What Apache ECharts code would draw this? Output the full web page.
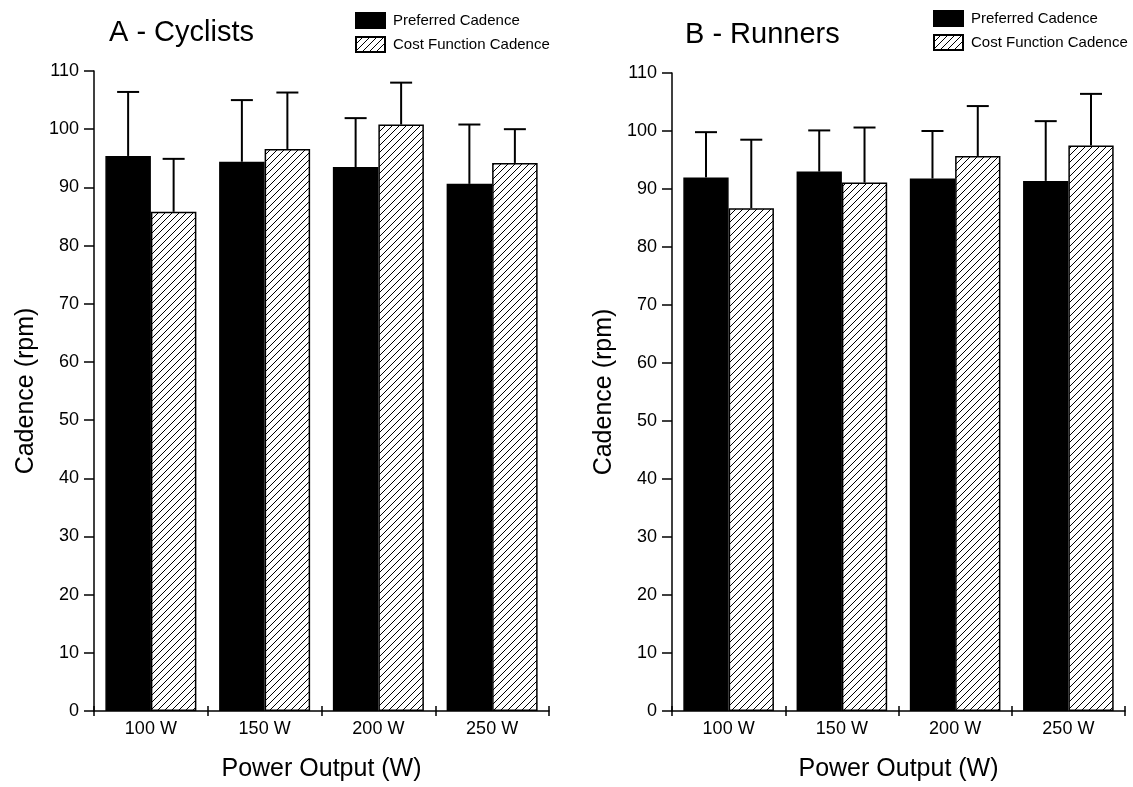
<!DOCTYPE html>
<html>
<head>
<meta charset="utf-8">
<script src="https://cdn.jsdelivr.net/npm/echarts@6/dist/echarts.min.js"></script>
<style>
  html, body { margin: 0; padding: 0; background: #fff; }
  #chart { width: 1133px; height: 787px; }
</style>
</head>
<body>
<div id="chart"></div>
<script>
// data
var categories = ['100 W', '150 W', '200 W', '250 W'];
var seriesNames = ['Preferred Cadence', 'Cost Function Cadence'];
var cycPreferred = [95.4, 94.4, 93.5, 90.6];
var cycPreferredHi = [106.4, 105.0, 101.9, 100.8];
var cycCost = [85.8, 96.6, 100.8, 94.2];
var cycCostHi = [94.9, 106.3, 108.0, 100.0];
var runPreferred = [92.0, 93.0, 91.8, 91.4];
var runPreferredHi = [99.8, 100.1, 100.0, 101.7];
var runCost = [86.7, 91.1, 95.7, 97.5];
var runCostHi = [98.5, 100.6, 104.3, 106.4];
var yMin = 0;
var yMax = 110;
var yStep = 10;

var FONT = "'Liberation Sans', Arial, sans-serif";

// hatch fill for the cost function bars
function makeHatch() {
	var c = document.createElement('canvas');
	c.width = 7;
	c.height = 7;
	var ctx = c.getContext('2d');
	ctx.fillStyle = '#fff';
	ctx.fillRect(0, 0, 7, 7);
	ctx.strokeStyle = '#000';
	ctx.lineWidth = 1;
	ctx.beginPath();
	ctx.moveTo(-1, 8); ctx.lineTo(8, -1);
	ctx.moveTo(-2, 2); ctx.lineTo(2, -2);
	ctx.moveTo(5, 9); ctx.lineTo(9, 5);
	ctx.stroke();
	return c;
}
var hatch = { image: makeHatch(), repeat: 'repeat' };

function pairs(mean, hi) {
	var out = [];
	for (var i = 0; i < mean.length; i++) out.push([i, mean[i], hi[i]]);
	return out;
}

// error bars: stem up from bar top with a cap, side -1 = left bar, 1 = right bar
function errRender(side) {
	return function (params, api) {
		var catW = api.size([1, 0])[0];
		var p = api.coord([api.value(0), api.value(1)]);
		var t = api.coord([api.value(0), api.value(2)]);
		var x = p[0] + side * 0.2 * catW;
		var style = { stroke: '#000', lineWidth: 2 };
		return {
			type: 'group',
			children: [
				{ type: 'line', shape: { x1: x, y1: p[1], x2: x, y2: t[1] }, style: style },
				{ type: 'line', shape: { x1: x - 11, y1: t[1], x2: x + 11, y2: t[1] }, style: style }
			]
		};
	};
}

function yAxis(gi) {
	return {
		type: 'value', gridIndex: gi, min: yMin, max: yMax, interval: yStep,
		name: 'Cadence (rpm)', nameLocation: 'middle', nameGap: 55,
		nameTextStyle: { fontFamily: FONT, fontSize: 25, color: '#000' },
		axisLine: { show: true, lineStyle: { color: '#000', width: 1.5 } },
		axisTick: { show: true, inside: false, length: 10, lineStyle: { color: '#000', width: 1.5 } },
		axisLabel: { fontFamily: FONT, fontSize: 18, color: '#000', margin: 15 },
		splitLine: { show: false }
	};
}

function xAxis(gi) {
	return {
		type: 'category', gridIndex: gi, data: categories, position: 'bottom',
		name: 'Power Output (W)', nameLocation: 'middle', nameGap: 46,
		nameTextStyle: { fontFamily: FONT, fontSize: 25, color: '#000' },
		axisLine: { show: true, lineStyle: { color: '#000', width: 1.5 } },
		axisTick: { show: true, inside: false, length: 5, lineStyle: { color: '#000', width: 1.5 } },
		axisLabel: { fontFamily: FONT, fontSize: 18, color: '#000', margin: 9 }
	};
}

// second x axis in the same place, only to get ticks that cross the axis line
function xTickAxis(gi) {
	return {
		type: 'category', gridIndex: gi, data: categories, position: 'bottom', offset: 0,
		axisLine: { show: false },
		axisTick: { show: true, inside: true, length: 5, lineStyle: { color: '#000', width: 1.5 } },
		axisLabel: { show: false }
	};
}

function bars(name, xi, yi, data, fill) {
	return {
		name: name, type: 'bar', xAxisIndex: xi, yAxisIndex: yi, data: data,
		barGap: '0%', barCategoryGap: '20%',
		itemStyle: { color: fill, borderColor: '#000', borderWidth: 1.5 },
		emphasis: { disabled: true }
	};
}

function errs(xi, yi, mean, hi, side) {
	return {
		type: 'custom', xAxisIndex: xi, yAxisIndex: yi, z: 5,
		renderItem: errRender(side), data: pairs(mean, hi), silent: true
	};
}

function legend(left, top) {
	return {
		data: seriesNames, orient: 'vertical', left: left, top: top,
		itemWidth: 29, itemHeight: 15, itemGap: 7, padding: 0,
		icon: 'rect', selectedMode: false,
		textStyle: { fontFamily: FONT, fontSize: 15, color: '#000', padding: [0, 0, 0, 3] }
	};
}

var chart = echarts.init(document.getElementById('chart'));
var option = {
	animation: false,
	backgroundColor: '#fff',
	title: [
		{ text: 'A - Cyclists', left: 104, top: 13, textStyle: { fontFamily: FONT, fontSize: 29, fontWeight: 'normal', color: '#000' } },
		{ text: 'B - Runners', left: 680, top: 15, textStyle: { fontFamily: FONT, fontSize: 29, fontWeight: 'normal', color: '#000' } }
	],
	legend: [legend(355, 12), legend(933, 10)],
	grid: [
		{ left: 94, top: 71, width: 455, height: 641 },
		{ left: 672, top: 73, width: 453, height: 641 }
	],
	xAxis: [xAxis(0), xAxis(1), xTickAxis(0), xTickAxis(1)],
	yAxis: [yAxis(0), yAxis(1)],
	series: [
		bars(seriesNames[0], 0, 0, cycPreferred, '#000'),
		bars(seriesNames[1], 0, 0, cycCost, hatch),
		bars(seriesNames[0], 1, 1, runPreferred, '#000'),
		bars(seriesNames[1], 1, 1, runCost, hatch),
		errs(0, 0, cycPreferred, cycPreferredHi, -1),
		errs(0, 0, cycCost, cycCostHi, 1),
		errs(1, 1, runPreferred, runPreferredHi, -1),
		errs(1, 1, runCost, runCostHi, 1)
	]
};
chart.setOption(option);
</script>
</body>
</html>
